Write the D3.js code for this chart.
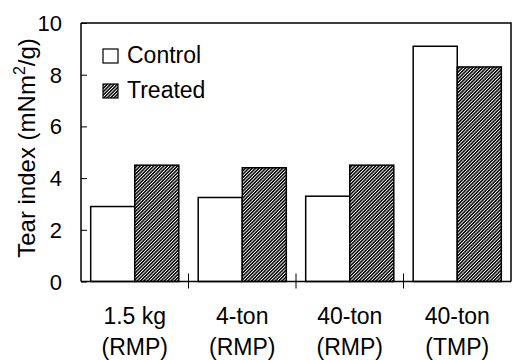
<!DOCTYPE html>
<html>
<head>
<meta charset="utf-8">
<script src="https://cdn.jsdelivr.net/npm/d3@7"></script>
<style>
  body { margin: 0; background: #fff; }
  svg { display: block; font-family: "Liberation Sans", Arial, sans-serif; }
</style>
</head>
<body>
<div id="chart"></div>
<script>
// data
var categories = ["1.5 kg|(RMP)", "4-ton|(RMP)", "40-ton|(RMP)", "40-ton|(TMP)"];
var seriesNames = ["Control", "Treated"];
var controlValues = [2.9, 3.25, 3.3, 9.1];
var treatedValues = [4.5, 4.4, 4.5, 8.3];
var yTicks = [0, 2, 4, 6, 8, 10];

var width = 512, height = 360;
var margin = {left: 81, right: 1, top: 23, bottom: 78};

var svg = d3.select("#chart").append("svg")
    .attr("width", width)
    .attr("height", height);

var defs = svg.append("defs");
defs.append("pattern")
    .attr("id", "hatch")
    .attr("patternUnits", "userSpaceOnUse")
    .attr("width", 2.4)
    .attr("height", 2.4)
    .attr("patternTransform", "rotate(45)")
    .call(function (p) {
        p.append("rect").attr("width", 2.4).attr("height", 2.4).attr("fill", "#fff");
        p.append("rect").attr("width", 1.6).attr("height", 2.4).attr("fill", "#111");
    });

var x = d3.scaleBand()
    .domain(categories)
    .range([margin.left, width - margin.right])
    .paddingInner(0)
    .paddingOuter(0);

var xs = d3.scaleBand()
    .domain(seriesNames)
    .range([0, x.bandwidth()])
    .paddingInner(0)
    .paddingOuter(0.22);

var y = d3.scaleLinear()
    .domain([0, 10])
    .range([height - margin.bottom - 0.5, margin.top]);

var fills = {"Control": "#fff", "Treated": "url(#hatch)"};

var rows = categories.map(function (c, i) {
    return [
        {cat: c, name: "Control", value: controlValues[i]},
        {cat: c, name: "Treated", value: treatedValues[i]}
    ];
});

// bars
svg.append("g")
    .selectAll("g")
    .data(rows)
    .join("g")
    .attr("transform", function (d) { return "translate(" + x(d[0].cat) + ",0)"; })
    .selectAll("rect")
    .data(function (d) { return d; })
    .join("rect")
    .attr("x", function (d) { return xs(d.name); })
    .attr("y", function (d) { return y(d.value); })
    .attr("width", xs.bandwidth())
    .attr("height", function (d) { return y(0) - y(d.value); })
    .attr("fill", function (d) { return fills[d.name]; })
    .attr("stroke", "#000")
    .attr("stroke-width", 1.5);

// frame (top and right)
svg.append("path")
    .attr("d", "M" + margin.left + "," + y(10) + "H" + (width - margin.right) + "V" + y(0))
    .attr("fill", "none")
    .attr("stroke", "#000")
    .attr("stroke-width", 1.5);

// y axis
var yAxis = svg.append("g")
    .attr("transform", "translate(" + margin.left + ",0)")
    .call(d3.axisRight(y).tickValues(yTicks).tickSize(6).tickFormat(""));
yAxis.select(".domain").attr("stroke-width", 1.5).attr("d", "M0," + y(0) + "V" + y(10));
yAxis.selectAll(".tick line").attr("stroke-width", 1);

svg.append("g")
    .selectAll("text")
    .data(yTicks)
    .join("text")
    .attr("x", 62)
    .attr("y", function (d) { return y(d) + 8; })
    .attr("text-anchor", "end")
    .attr("font-size", 22)
    .text(function (d) { return d; });

// x axis
var bounds = categories.map(function (c) { return x(c); }).concat([width - margin.right]);
var xAxis = svg.append("g");
xAxis.append("line")
    .attr("x1", margin.left).attr("x2", width - margin.right)
    .attr("y1", y(0)).attr("y2", y(0))
    .attr("stroke", "#000").attr("stroke-width", 1.5);
xAxis.selectAll(".xtick")
    .data(bounds.slice(1, 4))
    .join("line")
    .attr("class", "xtick")
    .attr("x1", function (d) { return d; }).attr("x2", function (d) { return d; })
    .attr("y1", y(0) - 8).attr("y2", y(0) + 7)
    .attr("stroke", "#000").attr("stroke-width", 1);

var xLabels = svg.append("g")
    .selectAll("text")
    .data(categories)
    .join("text")
    .attr("text-anchor", "middle")
    .attr("font-size", 23);
xLabels.append("tspan")
    .attr("x", function (d) { return x(d) + x.bandwidth() / 2; })
    .attr("y", 324)
    .text(function (d) { return d.split("|")[0]; });
xLabels.append("tspan")
    .attr("x", function (d) { return x(d) + x.bandwidth() / 2; })
    .attr("y", 355)
    .text(function (d) { return d.split("|")[1]; });

// y label
var yl = svg.append("text")
    .attr("transform", "translate(35,148) rotate(-90)")
    .attr("text-anchor", "middle")
    .attr("font-size", 24);
yl.append("tspan").text("Tear index (mNm");
yl.append("tspan").attr("font-size", 16).attr("dy", -10).text("2");
yl.append("tspan").attr("dy", 10).text("/g)");

// legend
var legend = svg.append("g")
    .selectAll("g")
    .data(seriesNames)
    .join("g")
    .attr("transform", function (d, i) { return "translate(103," + (49 + i * 35) + ")"; });
legend.append("rect")
    .attr("width", 15).attr("height", 14)
    .attr("fill", function (d) { return fills[d]; })
    .attr("stroke", "#000").attr("stroke-width", 1.2);
legend.append("text")
    .attr("x", 24).attr("y", 13.5)
    .attr("font-size", 23)
    .text(function (d) { return d; });
</script>
</body>
</html>
